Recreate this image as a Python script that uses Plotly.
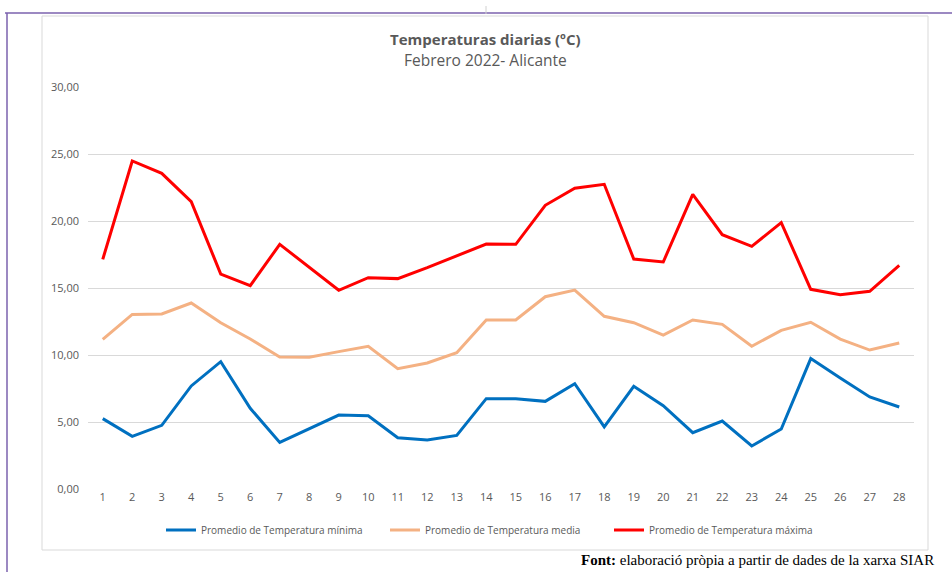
import plotly.graph_objects as go

dias = list(range(1, 29))
t_min = [5.25, 3.93, 4.75, 7.69, 9.50, 6.02, 3.48, 4.50, 5.52, 5.47, 3.83, 3.66, 4.00, 6.74,
         6.74, 6.54, 7.86, 4.63, 7.66, 6.22, 4.20, 5.07, 3.21, 4.48, 9.73, 8.28, 6.87, 6.12]
t_media = [11.17, 13.03, 13.06, 13.88, 12.41, 11.19, 9.85, 9.83, 10.25, 10.65, 8.98, 9.40, 10.17, 12.61,
           12.61, 14.35, 14.85, 12.89, 12.41, 11.49, 12.61, 12.29, 10.65, 11.84, 12.44, 11.19, 10.37, 10.90]
t_max = [17.14, 24.48, 23.56, 21.44, 16.04, 15.17, 18.26, 16.52, 14.83, 15.77, 15.70, 16.52, 17.41, 18.28,
         18.26, 21.17, 22.44, 22.74, 17.16, 16.94, 21.99, 18.98, 18.11, 19.88, 14.90, 14.50, 14.75, 16.69]

series_names = ["Promedio de Temperatura mínima", "Promedio de Temperatura media", "Promedio de Temperatura máxima"]
colors = ["#0070C0", "#F4B183", "#FF0000"]
y_ticks = [0, 5, 10, 15, 20, 25, 30]

W, H = 952, 572
ML, MR, MT, MB = 88, 38, 87, 83
PW, PH = W - ML - MR, H - MT - MB

def px_x(px):
    return (px - ML) / PW

def px_y(py):
    return (H - MB - py) / PH

fig = go.Figure()
for name, vals, c in zip(series_names, [t_min, t_media, t_max], colors):
    fig.add_trace(go.Scatter(x=dias, y=vals, mode="lines", name=name,
                             line=dict(color=c, width=3)))

font_main = "Open Sans, Noto Sans, sans-serif"
gray = "#595959"

fig.update_layout(
    width=W, height=H,
    margin=dict(l=ML, r=MR, t=MT, b=MB),
    paper_bgcolor="white", plot_bgcolor="white",
    separators=",.",
    font=dict(family=font_main, color=gray, size=11),
    showlegend=True,
    legend=dict(orientation="h", x=px_x(497), xanchor="center", y=px_y(530), yanchor="middle",
                font=dict(size=10, color=gray), itemwidth=30, entrywidth=179,
                bgcolor="rgba(0,0,0,0)"),
    xaxis=dict(range=[0.5, 28.5], tickmode="array", tickvals=dias, showgrid=False,
               zeroline=False, showline=False, ticks="", tickfont=dict(size=11, color=gray)),
    yaxis=dict(range=[0, 30], tickmode="array", tickvals=y_ticks, tickformat=".2f",
               showgrid=True, gridcolor="#D9D9D9", gridwidth=1, zeroline=False,
               showline=False, ticks="", ticklabelstandoff=8, tickfont=dict(size=11, color=gray)),
    shapes=[
        dict(type="rect", xref="paper", yref="paper", x0=px_x(42), x1=px_x(928), y0=px_y(550), y1=px_y(16),
             line=dict(color="#D9D9D9", width=1), fillcolor="rgba(0,0,0,0)", layer="below"),
        dict(type="line", xref="paper", yref="paper", x0=px_x(5), x1=px_x(952), y0=px_y(13), y1=px_y(13),
             line=dict(color="#7B62AE", width=1.5)),
        dict(type="line", xref="paper", yref="paper", x0=px_x(7), x1=px_x(7), y0=px_y(13), y1=px_y(572),
             line=dict(color="#7B62AE", width=1.5)),
        dict(type="line", xref="paper", yref="paper", x0=px_x(486), x1=px_x(486), y0=px_y(6), y1=px_y(14),
             line=dict(color="#D0D0D0", width=1)),
    ],
    annotations=[
        dict(text="<b>Temperaturas diarias (ºC)</b>", xref="paper", yref="paper", x=px_x(485), y=px_y(39),
             xanchor="center", yanchor="middle", showarrow=False, font=dict(size=15, color=gray)),
        dict(text="Febrero 2022- Alicante", xref="paper", yref="paper", x=px_x(485), y=px_y(60),
             xanchor="center", yanchor="middle", showarrow=False, font=dict(size=15.5, color=gray)),
        dict(text="<b>Font:</b> elaboració pròpia a partir de dades de la xarxa SIAR", xref="paper", yref="paper",
             x=px_x(579), y=px_y(560), xanchor="left", yanchor="middle", showarrow=False,
             font=dict(family="Liberation Serif, serif", size=15, color="#000000")),
    ],
)

fig.write_html("out.html", config={"displayModeBar": False},
               post_script="document.body.style.margin='0';document.body.style.overflow='hidden';")
